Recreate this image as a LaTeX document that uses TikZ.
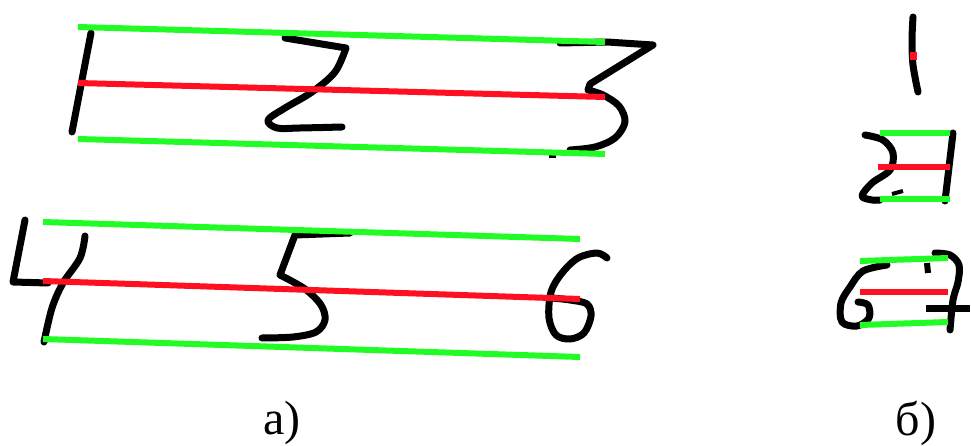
\documentclass[tikz,border=0pt]{standalone}
\usepackage{fontspec}
\setmainfont{Liberation Serif}
\definecolor{lgreen}{RGB}{34,252,38}
\definecolor{lred}{RGB}{255,16,32}
\tikzset{
  ink/.style={line width=7pt, line cap=round, line join=round, black},
  gline/.style={line width=6pt, lgreen},
  rline/.style={line width=6pt, lred},
  lbl/.style={font=\fontsize{48}{48}\selectfont, inner sep=0pt}
}
\begin{document}
\begin{tikzpicture}[x=1pt,y=-1pt]
\useasboundingbox[fill=white] (0,0) rectangle (971,446);
% ---- panel a, row 1 ----
\draw[ink] (91,33) -- (72,132);
\draw[ink] (285,38) -- (346,48) plot[smooth, tension=0.55] coordinates {(346,48) (335,72) (312,92) (285,108) (268,120) (277,128) (300,128) (342,127)};
\draw[ink] (560,43) -- (607,42) -- (653,45) -- (590,84) -- (588,90) plot[smooth, tension=0.55] coordinates {(588,90) (603,95) (619,106) (625,122) (615,138) (595,147) (570,150)};
\draw[black, line width=3pt] (549,157) -- (556,157);
% ---- panel a, row 2 ----
\draw[ink] (25,220) -- (13,282) -- (48,283);
\draw[ink] plot[smooth, tension=0.55] coordinates {(85,236) (80,258) (63,283) (52,308) (44,342)};
\draw[ink] (350,233) -- (295,235) -- (280,275) plot[smooth, tension=0.55] coordinates {(280,275) (305,289) (321,305) (325,320) (316,332) (293,337) (262,338)};
\draw[ink] plot[smooth, tension=0.55] coordinates {(607,258) (597,253) (578,258) (562,273) (551,292) (549,318) (556,335) (570,339) (584,333) (591,316) (587,304) (570,300) (552,298)};
% ---- panel b ----
\draw[ink] plot[smooth, tension=0.55] coordinates {(913,17) (912,40) (913,65) (918,92)};
\draw[ink] plot[smooth, tension=0.55] coordinates {(865,135) (883,140) (893,153) (890,170) (872,183) (862,196) (872,200) (880,200)};
\draw[ink] (953,133) -- (945,201);
\draw[black, line width=4pt] (892,194) -- (903,191);
\draw[ink] plot[smooth, tension=0.55] coordinates {(887,265) (863,271) (850,287) (841,303) (842,322) (857,326) (869,318) (868,305) (858,302)};
\draw[black, line width=6pt] (927,263) -- (928,273);
\draw[ink] plot[smooth, tension=0.55] coordinates {(935,253) (950,255) (959,265) (958,282) (953,300) (950,330)};
\draw[ink, line cap=butt] (926,308) -- (970,308);
% ---- coloured lines ----
\draw[gline] (78,27) -- (605,42);
\draw[rline] (78,83) -- (605,97);
\draw[gline] (78,139) -- (605,154);
\draw[gline] (43,222) -- (580,239);
\draw[rline] (43,281) -- (580,299);
\draw[gline] (43,339) -- (580,357);
\fill[lred] (910,52) rectangle (917,60);
\draw[gline] (880,133) -- (950,133);
\draw[rline] (878,167) -- (950,167);
\draw[gline] (880,199) -- (950,199);
\draw[gline] (860,261) -- (948,258);
\draw[rline] (860,292) -- (948,292);
\draw[gline] (860,325) -- (948,322);
% ---- labels ----
\node[lbl] (la) at (282,423) {a)};
\node[lbl] (lb) at (916,423) {б)};
\end{tikzpicture}
\end{document}
